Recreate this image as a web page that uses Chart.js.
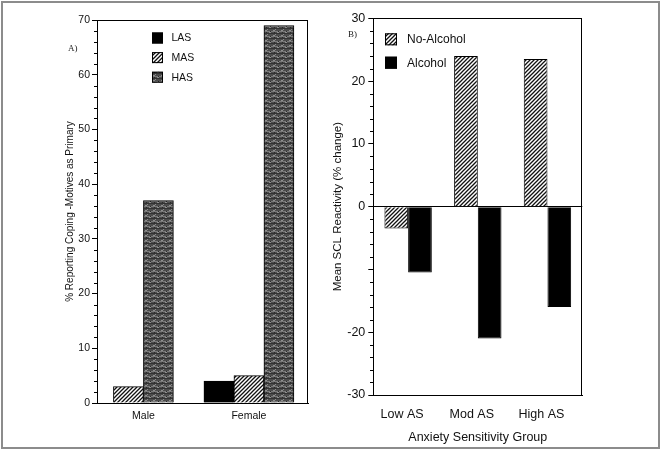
<!DOCTYPE html>
<html>
<head>
<meta charset="utf-8">
<script src="https://cdn.jsdelivr.net/npm/chart.js@4.4.1/dist/chart.umd.min.js"></script>
<style>
  html, body { margin: 0; padding: 0; background: #fff; }
  #wrap { position: relative; width: 661px; height: 451px; overflow: hidden; background: #fff; }
  #frame { position: absolute; left: 1px; top: 1px; width: 655px; height: 444px; border: 2px solid #8c8c8c; }
  canvas { position: absolute; top: 0; }
  .tag { position: absolute; font: 9px "Liberation Serif", serif; color: #222; }
</style>
</head>
<body>
<div id="wrap">
  <canvas id="chartA" width="330" height="451" style="left:0;width:330px;height:451px"></canvas>
  <canvas id="chartB" width="331" height="451" style="left:330px;width:331px;height:451px"></canvas>
  <div id="frame"></div>
  <span class="tag" style="left:68px;top:43px">A)</span>
  <span class="tag" style="left:348px;top:29px">B)</span>
</div>
<script>
// Panel A data
const sexes = ["Male", "Female"]
const lasValues = [null, 4]
const masValues = [3, 5]
const hasValues = [37, 69]
const yTicksA = [0, 10, 20, 30, 40, 50, 60, 70]

// Panel B data
const asGroups = ["Low AS", "Mod AS", "High AS"]
const noAlcohol = [-3.5, 24, 23.5]
const alcohol = [-10.5, -21, -16]
const yLabelsB = [30, 20, 10, 0, -20, -30]

const FONT = "'Liberation Sans', Arial, Helvetica, sans-serif"
const INK = "#111"

// diagonal hatch fill
function hatch(ctx) {
  const c = document.createElement("canvas")
  c.width = 4
  c.height = 4
  const g = c.getContext("2d")
  g.fillStyle = "#fff"
  g.fillRect(0, 0, 4, 4)
  g.strokeStyle = "#111"
  g.lineWidth = 1.3
  g.beginPath()
  g.moveTo(0, 4); g.lineTo(4, 0)
  g.moveTo(-1, 1); g.lineTo(1, -1)
  g.moveTo(3, 5); g.lineTo(5, 3)
  g.stroke()
  return ctx.createPattern(c, "repeat")
}

// grainy dark grey fill, horizontal streaks
function grain(ctx) {
  const c = document.createElement("canvas")
  c.width = 8
  c.height = 5
  const g = c.getContext("2d")
  g.fillStyle = "#4c4c4c"
  g.fillRect(0, 0, 8, 5)
  g.fillStyle = "#7a7a7a"
  g.fillRect(0, 1, 8, 1)
  g.fillStyle = "#333"
  g.fillRect(0, 3, 8, 1)
  g.fillStyle = "#8e8e8e"
  g.fillRect(1, 0, 2, 1)
  g.fillRect(5, 2, 2, 1)
  g.fillRect(3, 4, 1, 1)
  g.fillStyle = "#2a2a2a"
  g.fillRect(6, 1, 1, 1)
  g.fillRect(2, 2, 1, 1)
  return ctx.createPattern(c, "repeat")
}

const insideLegend = {
  id: "insideLegend",
  afterDraw(chart, args, opts) {
    const ctx = chart.ctx
    ctx.save()
    ctx.font = opts.font
    ctx.textBaseline = "middle"
    chart.data.datasets.forEach((ds, i) => {
      const y = opts.y + i * opts.gap
      ctx.fillStyle = ds.backgroundColor
      ctx.fillRect(opts.x, y, opts.box, opts.box)
      ctx.strokeStyle = "#000"
      ctx.lineWidth = 1
      ctx.strokeRect(opts.x + 0.5, y + 0.5, opts.box - 1, opts.box - 1)
      ctx.fillStyle = INK
      ctx.fillText(ds.label, opts.x + opts.box + opts.textGap, y + opts.box / 2 + 0.5)
    })
    ctx.restore()
  }
}

// top/right frame lines and minor y ticks
const frameAndMinor = {
  id: "frameAndMinor",
  afterDraw(chart, args, opts) {
    const { ctx, chartArea: a } = chart
    const y = chart.scales.y
    ctx.save()
    ctx.strokeStyle = "#000"
    ctx.lineWidth = 1
    ctx.beginPath()
    const top = Math.round(a.top) + 0.5
    const right = Math.round(a.right) - 0.5
    ctx.moveTo(Math.round(a.left), top)
    ctx.lineTo(right + 0.5, top)
    ctx.moveTo(right, top)
    ctx.lineTo(right, Math.round(a.bottom))
    for (let v = y.min; v <= y.max; v += opts.minor) {
      if (v % opts.major === 0) continue
      const py = Math.round(y.getPixelForValue(v)) + 0.5
      ctx.moveTo(Math.round(a.left) - opts.len, py)
      ctx.lineTo(Math.round(a.left), py)
    }
    ctx.stroke()
    ctx.restore()
  }
}

const ctxA = document.getElementById("chartA").getContext("2d")
const ctxB = document.getElementById("chartB").getContext("2d")

const toPoints = (vals) => vals.map((v, i) => ({ x: i + 1, y: v }))

new Chart(ctxA, {
  type: "bar",
  data: {
    datasets: [
      { label: "LAS", data: toPoints(lasValues), backgroundColor: "#000" },
      { label: "MAS", data: toPoints(masValues), backgroundColor: hatch(ctxA) },
      { label: "HAS", data: toPoints(hasValues), backgroundColor: grain(ctxA) },
    ],
  },
  options: {
    responsive: false,
    animation: false,
    layout: { padding: { left: 0, right: 22, top: 20, bottom: 0 } },
    datasets: { bar: { barThickness: 30, skipNull: true, borderColor: "#000", borderWidth: 1 } },
    plugins: {
      legend: { display: false },
      tooltip: { enabled: false },
      insideLegend: { x: 152, y: 32.5, box: 11, gap: 19.6, textGap: 8.5, font: "10.5px " + FONT },
      frameAndMinor: { minor: 2, major: 10, len: 3 },
    },
    scales: {
      x: {
        type: "linear",
        offset: false,
        min: 0.56,
        max: 2.56,
        afterBuildTicks: (s) => { s.ticks = sexes.map((_, i) => ({ value: i + 1 })) },
        afterFit: (s) => { s.height = 48 },
        grid: { display: false },
        border: { color: "#000", width: 1 },
        ticks: { callback: (v) => sexes[v - 1], font: { family: FONT, size: 10.5 }, color: INK, padding: -1, maxRotation: 0 },
      },
      y: {
        min: 0,
        max: 70,
        afterBuildTicks: (s) => { s.ticks = yTicksA.map((v) => ({ value: v })) },
        afterFit: (s) => { s.width = 97 },
        grid: { drawOnChartArea: false, tickLength: 5, color: "#000" },
        border: { color: "#000", width: 1 },
        ticks: { font: { family: FONT, size: 10.5 }, color: INK, padding: 2 },
        title: {
          display: true,
          text: "% Reporting Coping -Motives as Primary",
          font: { family: FONT, size: 10 },
          color: INK,
          padding: { top: 64, bottom: 0 },
        },
      },
    },
  },
  plugins: [insideLegend, frameAndMinor],
})

new Chart(ctxB, {
  type: "bar",
  data: {
    labels: asGroups,
    datasets: [
      { label: "No-Alcohol", data: noAlcohol, backgroundColor: hatch(ctxB) },
      { label: "Alcohol", data: alcohol, backgroundColor: "#000" },
    ],
  },
  options: {
    responsive: false,
    animation: false,
    layout: { padding: { left: 0, right: 78.7, top: 18.3, bottom: 0 } },
    datasets: { bar: { categoryPercentage: 0.68, barPercentage: 1, borderColor: "#000", borderWidth: 1 } },
    plugins: {
      legend: { display: false },
      tooltip: { enabled: false },
      insideLegend: { x: 55, y: 33.3, box: 12, gap: 23.4, textGap: 10, font: "12px " + FONT },
      frameAndMinor: { minor: 2, major: 10, len: 3 },
    },
    scales: {
      x: {
        offset: true,
        afterFit: (s) => { s.height = 56 },
        grid: { display: false },
        border: { color: "#000", width: 1 },
        ticks: { font: { family: FONT, size: 12.5 }, color: INK, padding: 4, labelOffset: -6 },
        title: {
          display: true,
          text: "Anxiety Sensitivity Group",
          font: { family: FONT, size: 12.5 },
          color: INK,
          padding: { top: 0, bottom: 6 },
        },
      },
      y: {
        min: -30,
        max: 30,
        afterFit: (s) => { s.width = 43.3 },
        grid: {
          drawOnChartArea: true,
          tickLength: 5,
          tickColor: "#000",
          color: (c) => (c.tick && c.tick.value === 0 ? "#000" : "rgba(0,0,0,0)"),
        },
        border: { color: "#000", width: 1 },
        ticks: {
          stepSize: 10,
          font: { family: FONT, size: 12.5 },
          color: INK,
          padding: 3,
          callback: (v) => (yLabelsB.includes(v) ? String(v) : ""),
        },
        title: {
          display: true,
          text: "Mean SCL Reactivity (% change)",
          font: { family: FONT, size: 11.5 },
          color: INK,
          padding: { top: 1, bottom: 0 },
        },
      },
    },
  },
  plugins: [insideLegend, frameAndMinor],
})
</script>
</body>
</html>
